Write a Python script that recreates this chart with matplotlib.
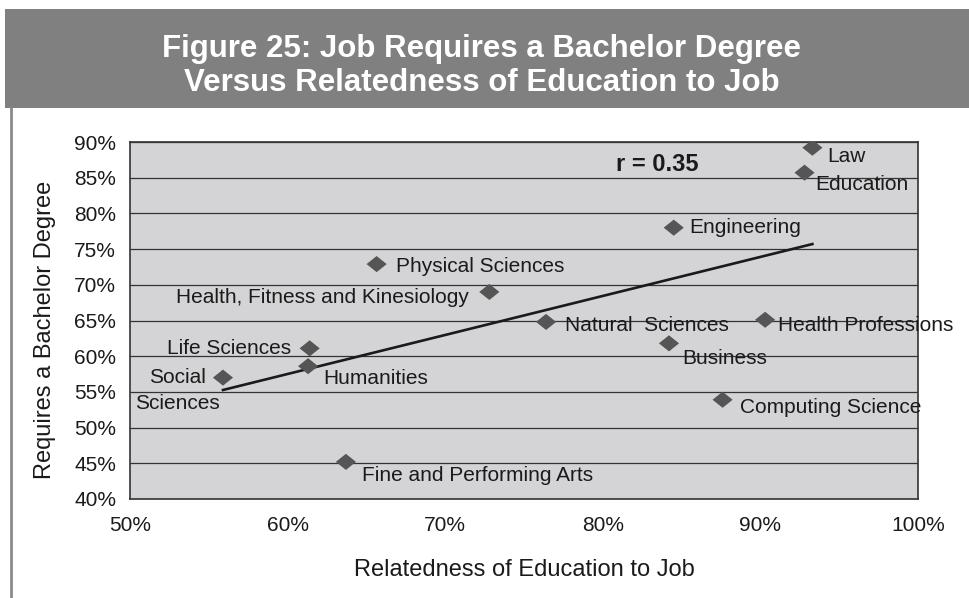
import numpy as np
import matplotlib
matplotlib.use('Agg')
import matplotlib.pyplot as plt
from matplotlib.patches import Rectangle
from matplotlib.lines import Line2D
import matplotlib.ticker as ticker

plt.rcParams['font.family'] = ['Liberation Sans', 'DejaVu Sans']

# data (percent)
fields = ['Law', 'Education', 'Engineering', 'Health Professions', 'Business',
          'Computing Science', 'Natural  Sciences', 'Physical Sciences',
          'Health, Fitness and Kinesiology', 'Life Sciences', 'Humanities',
          'Social', 'Fine and Performing Arts']
relatedness = [93.3, 92.8, 84.5, 90.3, 84.2, 87.6, 76.4, 65.65, 72.8, 61.4, 61.3, 55.9, 63.7]
requires_ba = [89.2, 85.7, 78.0, 65.1, 61.8, 53.9, 64.8, 72.9, 69.0, 61.1, 58.6, 57.0, 45.2]

# label offsets in pixels (dx right, dy down) and alignment
label_dx = [15, 11, 16, 12.7, 13.4, 17.3, 19, 19.3, -20, -19, 15, -16.6, 15.7]
label_dy = [9, 11.3, 0, 6, 15, 7.3, 4, 2.7, 5.6, 0, 12.3, 0, 13.3]
label_ha = ['left', 'left', 'left', 'left', 'left', 'left', 'left', 'left',
            'right', 'right', 'left', 'right', 'left']

x_ticks = [50, 60, 70, 80, 90, 100]
y_ticks = [40, 45, 50, 55, 60, 65, 70, 75, 80, 85, 90]

fig = plt.figure(figsize=(9.69, 5.98), dpi=100, facecolor='white')

# title band
fig.add_artist(Rectangle((5 / 969, 1 - 108 / 598), 1 - 5 / 969, 99 / 598,
                         transform=fig.transFigure, facecolor='#808080',
                         edgecolor='none'))
fig.text(0.497, 1 - 66 / 598,
         'Figure 25: Job Requires a Bachelor Degree\nVersus Relatedness of Education to Job',
         ha='center', va='center', color='white', fontsize=22.5, fontweight='bold',
         linespacing=1.2)
# left border line
fig.add_artist(Line2D([10.5 / 969, 10.5 / 969], [0, 1 - 108 / 598],
                      transform=fig.transFigure, color='#8a8a8a', lw=2))

ax = fig.add_axes([130 / 969, 99 / 598, 788 / 969, 357 / 598])
ax.set_facecolor('#d4d4d6')
ax.set_xlim(50, 100)
ax.set_ylim(40, 90)
ax.set_xticks(x_ticks)
ax.set_yticks(y_ticks)
ax.xaxis.set_major_formatter(ticker.FuncFormatter(lambda v, p: f'{v:.0f}%'))
ax.yaxis.set_major_formatter(ticker.FuncFormatter(lambda v, p: f'{v:.0f}%'))
ax.tick_params(length=0, labelsize=15, colors='#1a1a1a')
ax.tick_params(axis='y', pad=10)
ax.tick_params(axis='x', pad=12)
ax.grid(True, axis='y', color='#333333', lw=0.9)
ax.set_axisbelow(True)
for s in ax.spines.values():
    s.set_color('#333333')
    s.set_linewidth(1.2)

diamond = [(-1, 0), (0, 0.8), (1, 0), (0, -0.8)]
ax.scatter(relatedness, requires_ba, marker=diamond, s=14.5 ** 2,
           color='#555555', edgecolors='none', zorder=3)

# trend line
coef = np.polyfit(relatedness, requires_ba, 1)
xs = np.array([min(relatedness), max(relatedness)])
ax.plot(xs, np.polyval(coef, xs), color='#1a1a1a', lw=1.9, zorder=2)

for name, xv, yv, dx, dy, ha in zip(fields, relatedness, requires_ba,
                                    label_dx, label_dy, label_ha):
    ax.annotate(name, (xv, yv), xytext=(dx * 0.72, -dy * 0.72),
                textcoords='offset points', ha=ha, va='center',
                fontsize=15, color='#1a1a1a', zorder=4)
# second line of the Social Sciences label
i = fields.index('Social')
ax.annotate('Sciences', (relatedness[i], requires_ba[i]),
            xytext=(-88.3 * 0.72, -25.4 * 0.72), textcoords='offset points',
            ha='left', va='center', fontsize=15, color='#1a1a1a', zorder=4)

ax.text(83.47, 86.8, 'r = 0.35', ha='center', va='center', fontsize=17,
        fontweight='bold', color='#1a1a1a')

ax.text(0.5, -0.199, 'Relatedness of Education to Job', transform=ax.transAxes,
        ha='center', va='center', fontsize=17, color='#1a1a1a')
ax.text(-0.108, 0.473, 'Requires a Bachelor Degree', transform=ax.transAxes,
        ha='center', va='center', rotation=90, fontsize=17, color='#1a1a1a')

fig.savefig('out.png', dpi=100, facecolor='white')
